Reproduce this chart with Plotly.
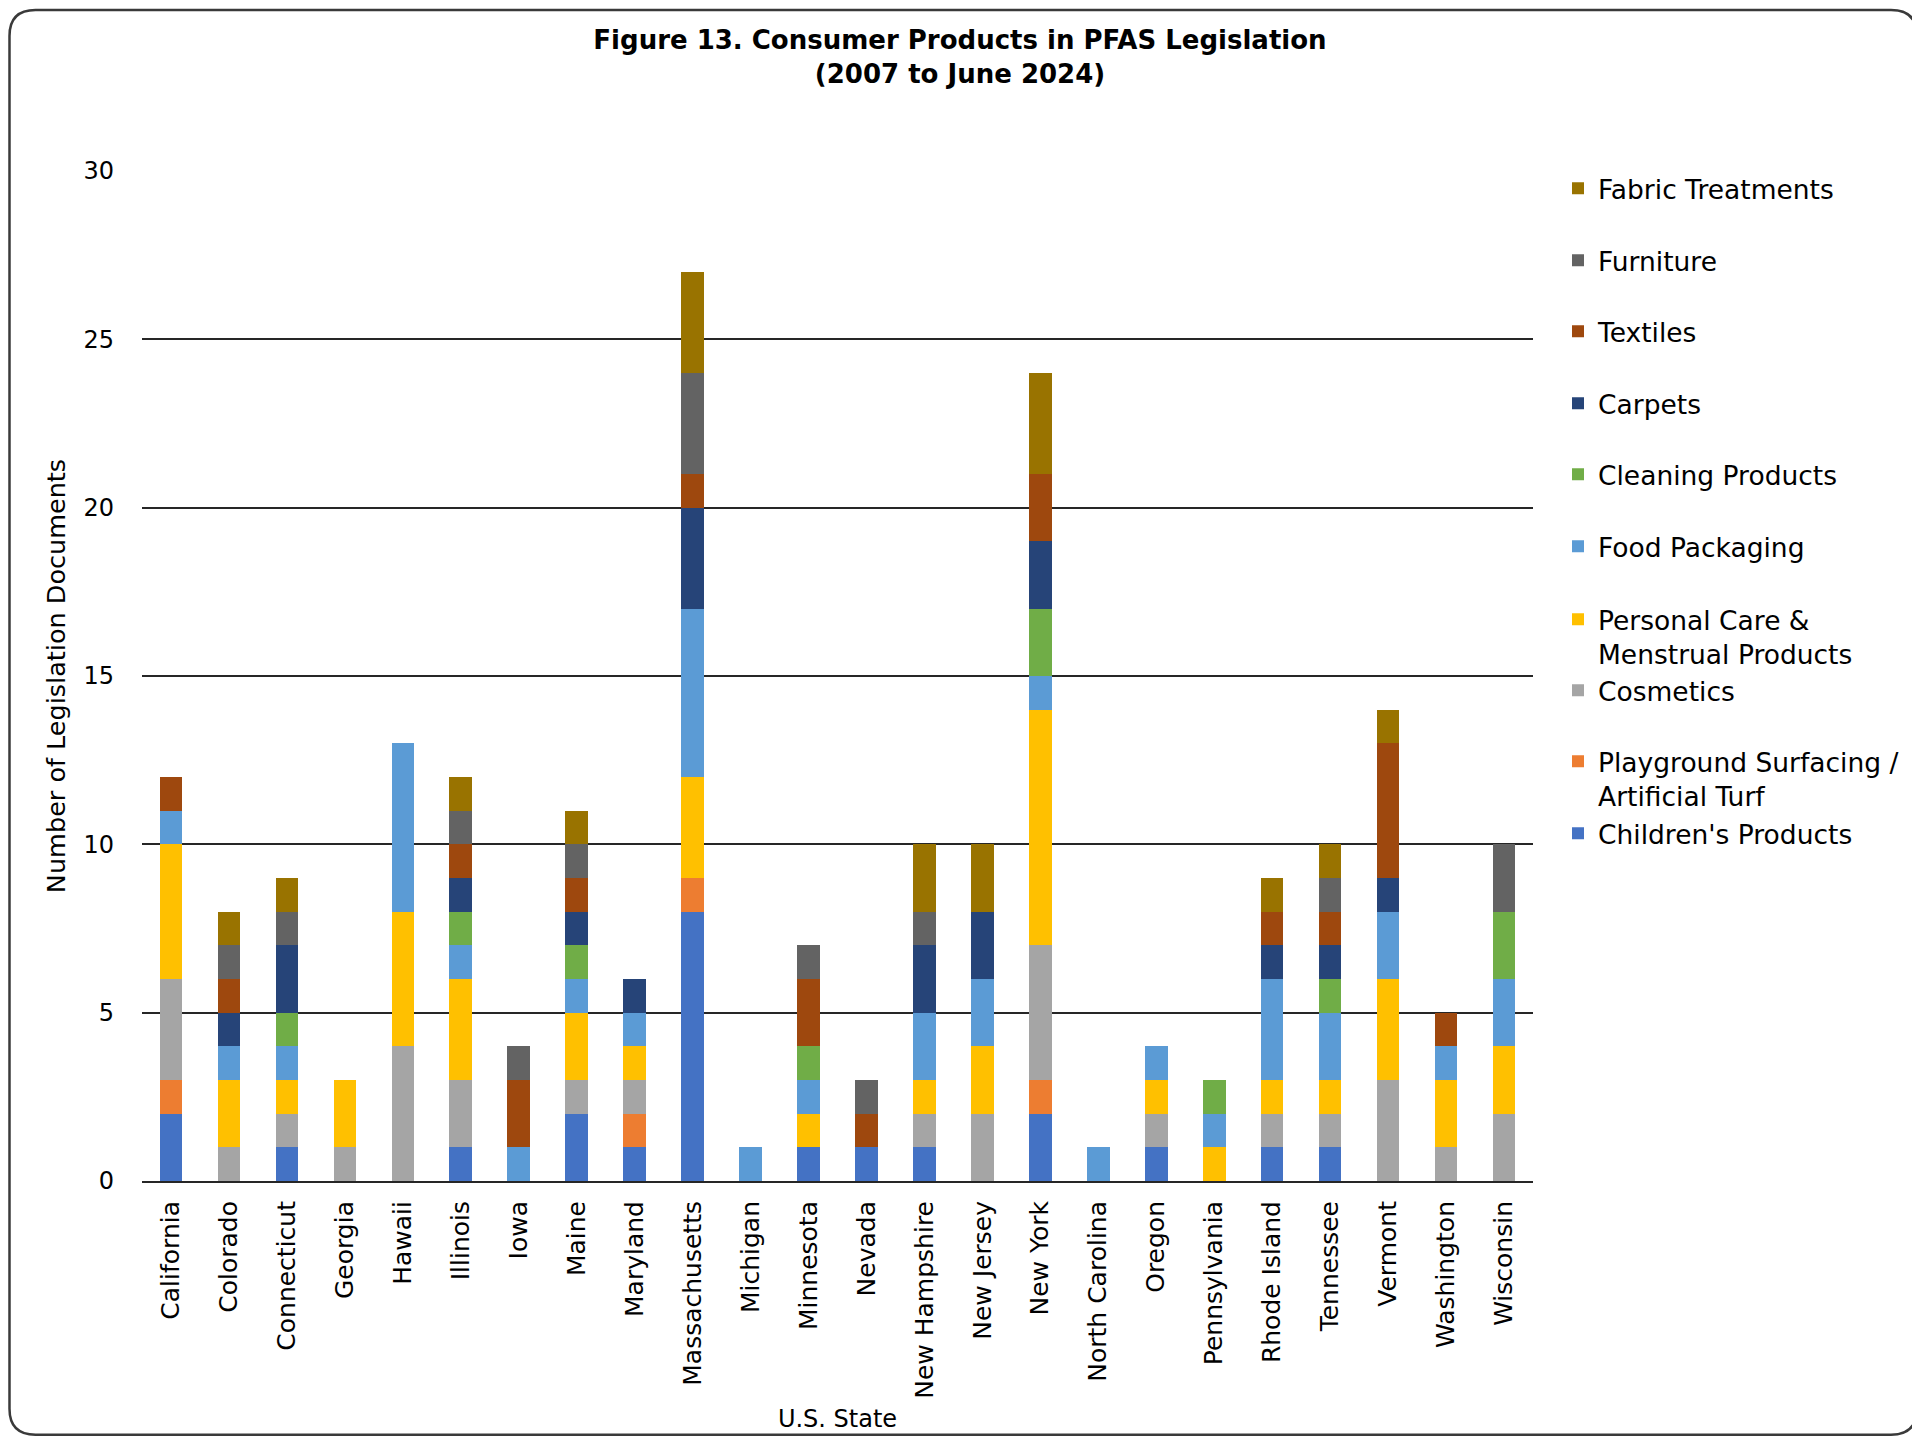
import plotly.graph_objects as go

states = ["California", "Colorado", "Connecticut", "Georgia", "Hawaii", "Illinois", "Iowa",
          "Maine", "Maryland", "Massachusetts", "Michigan", "Minnesota", "Nevada",
          "New Hampshire", "New Jersey", "New York", "North Carolina", "Oregon",
          "Pennsylvania", "Rhode Island", "Tennessee", "Vermont", "Washington", "Wisconsin"]

childrens_products = [2, 0, 1, 0, 0, 1, 0, 2, 1, 8, 0, 1, 1, 1, 0, 2, 0, 1, 0, 1, 1, 0, 0, 0]
playground_turf    = [1, 0, 0, 0, 0, 0, 0, 0, 1, 1, 0, 0, 0, 0, 0, 1, 0, 0, 0, 0, 0, 0, 0, 0]
cosmetics          = [3, 1, 1, 1, 4, 2, 0, 1, 1, 0, 0, 0, 0, 1, 2, 4, 0, 1, 0, 1, 1, 3, 1, 2]
personal_care      = [4, 2, 1, 2, 4, 3, 0, 2, 1, 3, 0, 1, 0, 1, 2, 7, 0, 1, 1, 1, 1, 3, 2, 2]
food_packaging     = [1, 1, 1, 0, 5, 1, 1, 1, 1, 5, 1, 1, 0, 2, 2, 1, 1, 1, 1, 3, 2, 2, 1, 2]
cleaning_products  = [0, 0, 1, 0, 0, 1, 0, 1, 0, 0, 0, 1, 0, 0, 0, 2, 0, 0, 1, 0, 1, 0, 0, 2]
carpets            = [0, 1, 2, 0, 0, 1, 0, 1, 1, 3, 0, 0, 0, 2, 2, 2, 0, 0, 0, 1, 1, 1, 0, 0]
textiles           = [1, 1, 0, 0, 0, 1, 2, 1, 0, 1, 0, 2, 1, 0, 0, 2, 0, 0, 0, 1, 1, 4, 1, 0]
furniture          = [0, 1, 1, 0, 0, 1, 1, 1, 0, 3, 0, 1, 1, 1, 0, 0, 0, 0, 0, 0, 1, 0, 0, 2]
fabric_treatments  = [0, 1, 1, 0, 0, 1, 0, 1, 0, 3, 0, 0, 0, 2, 2, 3, 0, 0, 0, 1, 1, 1, 0, 0]

series = [
    ("Children's Products", childrens_products, "#4472C4"),
    ("Playground Surfacing /<br>Artificial Turf", playground_turf, "#ED7D31"),
    ("Cosmetics", cosmetics, "#A5A5A5"),
    ("Personal Care &<br>Menstrual Products", personal_care, "#FFC000"),
    ("Food Packaging", food_packaging, "#5B9BD5"),
    ("Cleaning Products", cleaning_products, "#70AD47"),
    ("Carpets", carpets, "#264478"),
    ("Textiles", textiles, "#9E480E"),
    ("Furniture", furniture, "#636363"),
    ("Fabric Treatments", fabric_treatments, "#997300"),
]

OFF = 8  # page body margin
W, H = 1920 - OFF, 1440 - OFF
L, R, T, B = 142 - OFF, 1533 - OFF, 171 - OFF, 1184 - OFF
FONT = "DejaVu Sans"

# legend text-center y positions (page px), bottom series first
legend_centers = [834, 762, 691, 620, 547, 475, 404, 332, 261, 189]

fig = go.Figure()
layout_legends = {}
for i, (name, vals, color) in enumerate(series):
    key = "legend" if i == 0 else f"legend{i + 1}"
    fig.add_trace(go.Bar(x=states, y=vals, name=name, marker_color=color,
                         marker_line_width=0, legend=key, showlegend=True))
    layout_legends[key] = dict(
        xref="container", yref="container",
        x=(1558 - OFF) / W, y=1 - (legend_centers[i] - OFF - 24.5) / H,
        xanchor="left", yanchor="top", valign="top",
        bgcolor="rgba(0,0,0,0)",
        font=dict(family=FONT, size=26.5, color="#000000"),
    )

def P(x, y):
    px = (x - L) / (R - L)
    py = (B - y) / (B - T)
    return f"{px:.5f},{py:.5f}"

# rounded figure border (figure px)
x0, y0, x1, y1, r = 1.5, 1.5, W - 3, H - 1.5, 26
path = (f"M {P(x0 + r, y0)} L {P(x1 - r, y0)} Q {P(x1, y0)} {P(x1, y0 + r)} "
        f"L {P(x1, y1 - r)} Q {P(x1, y1)} {P(x1 - r, y1)} "
        f"L {P(x0 + r, y1)} Q {P(x0, y1)} {P(x0, y1 - r)} "
        f"L {P(x0, y0 + r)} Q {P(x0, y0)} {P(x0 + r, y0)} Z")

fig.update_layout(
    width=W, height=H,
    showlegend=True,
    barmode="stack", bargap=0.61,
    plot_bgcolor="white", paper_bgcolor="white",
    margin=dict(l=L, r=W - R, t=T, b=H - B),
    font=dict(family=FONT, size=24, color="#000000"),
    title=dict(text="<b>Figure 13. Consumer Products in PFAS Legislation<br>(2007 to June 2024)</b>",
               x=(960 - OFF) / W, xref="container", xanchor="center",
               y=1 - 41 / H, yref="container", yanchor="top",
               font=dict(family=FONT, size=26, color="#000000")),
    xaxis=dict(tickangle=-90, showgrid=False, showline=True, linecolor="#262626",
               linewidth=2, ticks="", tickfont=dict(size=25), ticklabelstandoff=8,
               title=dict(text="U.S. State", font=dict(size=24), standoff=12)),
    yaxis=dict(range=[0, 30], dtick=5, showgrid=True, gridcolor="#262626", gridwidth=1.6,
               zeroline=False, showline=False, ticks="", tickfont=dict(size=24),
               ticklabelstandoff=27,
               title=dict(text="Number of Legislation Documents", font=dict(size=25.5), standoff=10)),
    shapes=[dict(type="path", xref="paper", yref="paper", path=path,
                 line=dict(color="#3a3a3a", width=2.5), fillcolor="rgba(0,0,0,0)")],
    **layout_legends,
)

fig.write_html("out.html")
